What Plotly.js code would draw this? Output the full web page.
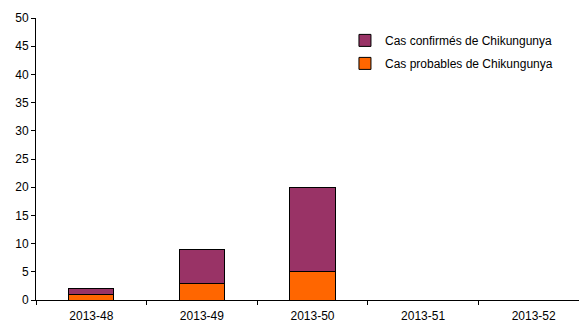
<!DOCTYPE html>
<html>
<head>
<meta charset="utf-8">
<script src="https://cdn.plot.ly/plotly-3.0.1.min.js"></script>
<style>html,body{margin:0;padding:0;background:#fff;}#chart{width:579px;height:323px;}</style>
</head>
<body>
<div id="chart"></div>
<script>
const weeks = ["2013-48", "2013-49", "2013-50", "2013-51", "2013-52"];
const probables = [1, 3, 5, 0, 0];
const confirmes = [1, 6, 15, 0, 0];
const yTicks = [0, 5, 10, 15, 20, 25, 30, 35, 40, 45, 50];

const traces = [
  {
    type: "bar", name: "Cas probables de Chikungunya", x: weeks, y: probables,
    marker: {color: "#FF6600", line: {color: "#000000", width: 1}},
    width: 0.41, legendgroup: "p", legendrank: 2, hoverinfo: "x+y"
  },
  {
    type: "bar", name: "Cas confirmés de Chikungunya", x: weeks, y: confirmes,
    marker: {color: "#993366", line: {color: "#000000", width: 1}},
    width: 0.41, legendgroup: "c", legendrank: 1, hoverinfo: "x+y"
  }
];

const layout = {
  width: 579, height: 323,
  margin: {l: 36, r: 0, t: 18, b: 23, pad: 0},
  paper_bgcolor: "#ffffff", plot_bgcolor: "#ffffff",
  barmode: "stack",
  font: {family: "Liberation Sans, Arial, sans-serif", size: 12, color: "#000000"},
  showlegend: true,
  legend: {
    x: 0.569, y: 0.972, xanchor: "left", yanchor: "top",
    traceorder: "grouped", tracegroupgap: 4,
    font: {size: 12, color: "#000000"}, bgcolor: "rgba(0,0,0,0)"
  },
  xaxis: {
    type: "category", range: [-0.5, 4.41],
    showline: true, linecolor: "#000000", linewidth: 1,
    ticks: "outside", ticklen: 4, tickcolor: "#000000", tickson: "boundaries",
    ticklabelstandoff: 5,
    showgrid: false, zeroline: false, fixedrange: true,
    tickfont: {size: 12, color: "#000000"}
  },
  yaxis: {
    range: [0, 50], tickvals: yTicks, ticktext: yTicks.map(String),
    showline: true, linecolor: "#000000", linewidth: 1,
    ticks: "outside", ticklen: 4, tickcolor: "#000000",
    showgrid: false, zeroline: false, fixedrange: true,
    tickfont: {size: 12, color: "#000000"}
  }
};

Plotly.newPlot("chart", traces, layout, {displayModeBar: false, staticPlot: true});
</script>
</body>
</html>
